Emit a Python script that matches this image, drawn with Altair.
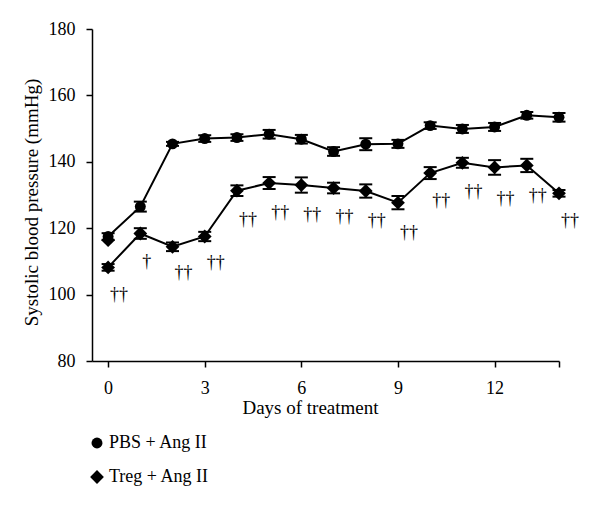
import altair as alt
import pandas as pd

# ---- data ----
days = list(range(15))
groups = ["PBS + Ang II", "Treg + Ang II"]
pbs_mean = [117.5, 126.5, 145.4, 147.0, 147.3, 148.3, 146.8, 143.1, 145.3, 145.4, 150.9, 149.9, 150.5, 154.0, 153.4]
pbs_sem = [1.0, 1.5, 0.6, 1.0, 1.0, 1.3, 1.3, 1.3, 1.8, 1.2, 1.0, 1.2, 1.2, 1.0, 1.3]
treg_mean = [108.2, 118.4, 114.4, 117.5, 131.3, 133.6, 133.0, 132.1, 131.2, 127.7, 136.6, 139.7, 138.3, 138.9, 130.5]
treg_sem = [1.0, 1.6, 1.3, 1.4, 1.6, 1.8, 2.3, 1.6, 2.0, 2.0, 1.8, 1.5, 2.2, 2.0, 1.0]
extra_day = [0]
extra_value = [116.4]
dagger_day = list(range(15))
dagger_y = [99.9, 109.9, 106.4, 109.4, 122.5, 124.5, 124.0, 123.5, 122.3, 118.6, 128.3, 131.0, 128.7, 129.8, 122.3]
dagger_txt = ["††", "†", "††", "††", "††", "††", "††", "††", "††", "††", "††", "††", "††", "††", "††"]
x_ticks = [0, 3, 6, 9, 12, 14]
y_ticks = [80, 100, 120, 140, 160, 180]

rows = []
for g, means, sems in [(groups[0], pbs_mean, pbs_sem), (groups[1], treg_mean, treg_sem)]:
    for d, m, s in zip(days, means, sems):
        rows.append({"day": d, "value": m, "lo": m - s, "hi": m + s, "group": g})
df = pd.DataFrame(rows)
extra_df = pd.DataFrame({"day": extra_day, "value": extra_value})
dag_df = pd.DataFrame({"day": dagger_day, "value": dagger_y, "txt": dagger_txt})

FONT = "Liberation Serif"
x_scale = alt.Scale(domain=[-0.5, 14], nice=False, zero=False)
y_scale = alt.Scale(domain=[80, 180], nice=False, zero=False)
x_axis = alt.Axis(values=x_ticks, labelExpr="datum.value == 14 ? '' : datum.label",
                  title="Days of treatment", labelBaseline="alphabetic", labelPadding=26,
                  titleX=218, titleY=52, titleBaseline="alphabetic", titleAlign="center",
                  titleAnchor="start")
y_axis = alt.Axis(values=y_ticks, title="Systolic blood pressure (mmHg)", labelPadding=11,
                  titleX=-55, titleY=173, titleBaseline="alphabetic", titleAlign="center",
                  titleAnchor="start", titleAngle=270)
legend = alt.Legend(orient="none", legendX=-4, legendY=405, title=None,
                    labelFont=FONT, labelFontSize=18, labelColor="black",
                    rowPadding=15, labelOffset=3)


def X(field="day"):
    return alt.X(f"{field}:Q", scale=x_scale, axis=x_axis, title="Days of treatment")


def Y(field):
    return alt.Y(f"{field}:Q", scale=y_scale, axis=y_axis, title="Systolic blood pressure (mmHg)")


base = alt.Chart(df)
lines = base.mark_line(color="black", strokeWidth=2).encode(x=X(), y=Y("value"), detail="group:N")
rules = base.mark_rule(color="black", strokeWidth=1.5, opacity=1).encode(x=X(), y=Y("lo"), y2="hi:Q")
cap_lo = base.mark_tick(color="black", orient="horizontal", size=13, thickness=2, opacity=1).encode(x=X(), y=Y("lo"))
cap_hi = base.mark_tick(color="black", orient="horizontal", size=13, thickness=2, opacity=1).encode(x=X(), y=Y("hi"))
points = base.mark_point(filled=True, opacity=1, color="black").encode(
    x=X(), y=Y("value"),
    shape=alt.Shape("group:N", scale=alt.Scale(domain=groups, range=["circle", "diamond"]), legend=legend),
    size=alt.Size("group:N", scale=alt.Scale(domain=groups, range=[120, 190]), legend=legend),
)
extra = alt.Chart(extra_df).mark_point(filled=True, shape="diamond", size=190, color="black", opacity=1).encode(
    x=X(), y=Y("value"))
daggers = alt.Chart(dag_df).mark_text(font=FONT, fontSize=18, align="left", baseline="middle",
                                      dx=2, color="black").encode(x=X(), y=Y("value"), text="txt:N")

chart = alt.layer(lines, rules, cap_lo, cap_hi, points, extra, daggers).properties(
    width=467, height=332,
    autosize=alt.AutoSizeParams(type="none"),
    padding={"left": 84, "top": 21, "right": 33, "bottom": 137},
).configure_view(stroke=None).configure_axis(
    domainColor="black", tickColor="black", labelColor="black", titleColor="black",
    labelFont=FONT, titleFont=FONT, labelFontSize=18, titleFontSize=19,
    titleFontWeight="normal", grid=False, domainWidth=1.5, tickWidth=1.5, tickSize=6,
)

chart.save("out.html", embed_options={"renderer": "svg", "actions": False})
